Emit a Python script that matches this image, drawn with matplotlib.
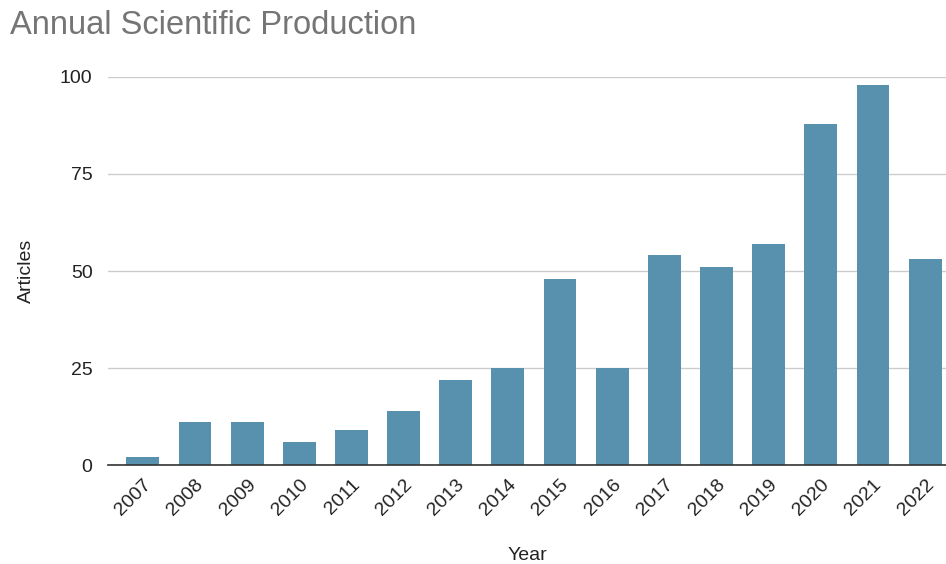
import numpy as np
import matplotlib
matplotlib.use("Agg")
import matplotlib.pyplot as plt

# ======================= data
years = ["2007", "2008", "2009", "2010", "2011", "2012", "2013", "2014",
         "2015", "2016", "2017", "2018", "2019", "2020", "2021", "2022"]
articles = [2, 11, 11, 6, 9, 14, 22, 25, 48, 25, 54, 51, 57, 88, 98, 53]
yticks = [0, 25, 50, 75, 100]

plt.rcParams['font.family'] = ['Liberation Sans', 'DejaVu Sans']

# ======================= plot
fig = plt.figure(figsize=(9.46, 5.64), dpi=100)
ax = fig.add_axes([0.114, 0.1755, 0.886, 0.688])

x = np.arange(len(years))
ax.bar(x, articles, width=0.63, color="#5891ad", zorder=3)

ax.set_xlim(-0.67, len(years) - 0.6)
ax.set_ylim(0, 100)
ax.set_yticks(yticks)
ax.set_xticks(x)
ax.set_xticklabels(years, rotation=45, ha='right', rotation_mode='anchor')

ax.grid(axis='y', color='#cccccc', linewidth=1, zorder=0)
for s in ['top', 'right', 'left']:
    ax.spines[s].set_visible(False)
ax.spines['bottom'].set_color('#333333')
ax.spines['bottom'].set_linewidth(1.2)
ax.spines['bottom'].set_zorder(4)
ax.tick_params(axis='both', length=0, labelsize=14, colors='#222222')
ax.tick_params(axis='x', pad=8)
ax.tick_params(axis='y', pad=11)

ax.set_xlabel("Year", fontsize=14, color='#222222', labelpad=20)
ax.set_ylabel("Articles", fontsize=14, color='#222222', labelpad=18)

fig.text(0.011, 0.955, "Annual Scientific Production", fontsize=23.5,
         color='#757575', va='center', ha='left')

fig.savefig("out.png", dpi=100)
